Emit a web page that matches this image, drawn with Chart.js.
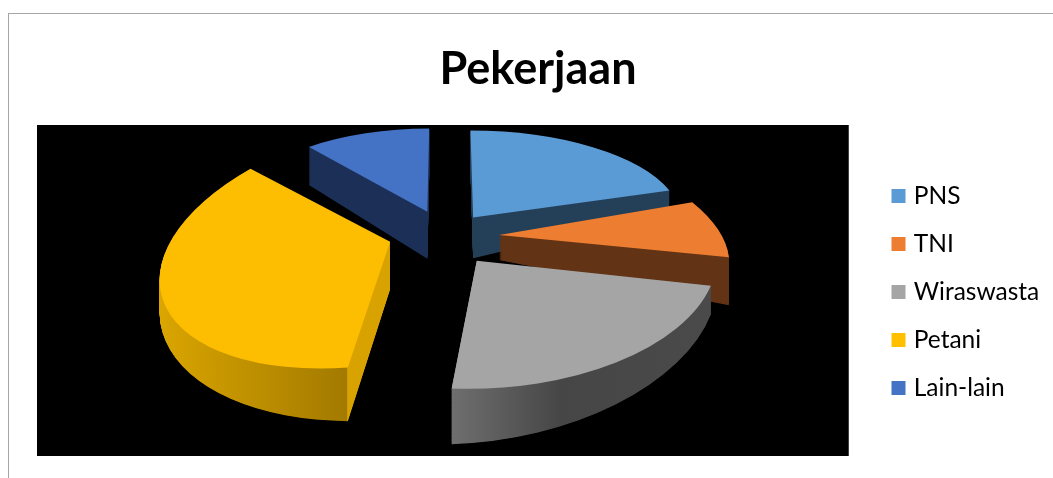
<!DOCTYPE html>
<html>
<head>
<meta charset="utf-8">
<title>Pekerjaan</title>
<script src="https://cdn.jsdelivr.net/npm/chart.js@4"></script>
<style>
  html, body { margin: 0; padding: 0; background: #fff; overflow: hidden; }
  #frame { position: absolute; left: 8px; top: 13px; width: 1100px; height: 520px; border: 1px solid #a6a6a6; }
  #myChart { position: absolute; left: 0; top: 0; }
</style>
</head>
<body>
<div id="frame"></div>
<canvas id="myChart" width="1053" height="478"></canvas>
<script>
"use strict";

// Chart data
const chartTitle = "Pekerjaan";
const categories = ["PNS", "TNI", "Wiraswasta", "Petani", "Lain-lain"];
const shares = [20, 9, 23, 37, 11];

// Colours
const topColors = ["#5b9bd5", "#ed7d31", "#a5a5a5", "#fdbd00", "#4472c4"];
const legendColors = ["#5b9bd5", "#ed7d31", "#a5a5a5", "#ffc000", "#4472c4"];
// [screen x, colour] stops for the wall under each slice
const sideStops = [
    [[0, "#234058"], [1053, "#234058"]],
    [[0, "#623314"], [1053, "#623314"]],
    [[445, "#6e6e6e"], [553, "#464646"], [701, "#4a4a4a"]],
    [[163, "#dba600"], [361, "#a37a00"], [362, "#d8a200"], [400, "#d8a200"]],
    [[0, "#1b2f57"], [1053, "#1b2f57"]]
];

// Fake 3D settings. The pie is drawn with radius 100 and squashed per slice
const pieCentre = { x: 440, y: 235 };
const baseRadius = 100;
const explode = [100, 120, 100, 90, 90];
const scaleX = [2.05, 1.94, 2.40, 2.17, 1.79];
const scaleY = [0.86, 0.93, 1.25, 1.08, 0.77];
const nudgeX = [3, 1, 3, -3, 1];
const nudgeY = [0, 1, 0, 0, -7];
// small linear tweak of each slice around its tip, stands in for perspective
const sliceTweak = [
    [1, 0.035, 0, 1],
    [1, 0.6, -0.01, 1],
    [1, 0.04, -0.03, 1.02],
    [1, -0.1, -0.14, 1.07],
    [1, -0.05, 0, 1]
];
// wall height at the pie centre and how it changes across the screen
const depthAtCentre = [44, 19, 43, 51, 48];
const depthSlopeX = [-0.1, 0.1, -0.07, 0.079, 0.075];
const depthSlopeY = [0, 0, 0.088, 0.074, 0];
const drawOrder = [4, 0, 1, 3, 2];

// Where the legend and the title sit, past what Chart.js would lay out
const legendLeft = 872;
const legendDrop = 64;
const titleCentre = 538;

function sliceTip(arc, i) {
    let half = (arc.startAngle + arc.endAngle) / 2;
    return {
        x: pieCentre.x + scaleX[i] * Math.cos(half) * explode[i] / 4 + nudgeX[i],
        y: pieCentre.y + scaleY[i] * Math.sin(half) * explode[i] / 4 + nudgeY[i]
    };
}

function sliceMatrix(ctx, arc, i) {
    let tip = sliceTip(arc, i);
    let m = sliceTweak[i];
    ctx.translate(tip.x, tip.y);
    ctx.transform(m[0], m[2], m[1], m[3], 0, 0);
    ctx.translate(-tip.x, -tip.y);
    ctx.translate(pieCentre.x + nudgeX[i], pieCentre.y + nudgeY[i]);
    ctx.scale(scaleX[i], scaleY[i]);
    ctx.translate(-arc.x, -arc.y);
}

function sideGradient(ctx, arc, i) {
    let half = (arc.startAngle + arc.endAngle) / 2;
    let shiftX = Math.cos(half) * explode[i] / 4;
    let toLocal = (sx) => arc.x - shiftX + (sx - pieCentre.x) / scaleX[i];
    let stops = sideStops[i];
    let x0 = toLocal(stops[0][0]);
    let x1 = toLocal(stops[stops.length - 1][0]);
    let grad = ctx.createLinearGradient(x0, 0, x1, 0);
    stops.forEach((s) => {
        grad.addColorStop((toLocal(s[0]) - x0) / (x1 - x0), s[1]);
    });
    return grad;
}

const pie3d = {
    id: "pie3d",
    afterLayout(chart) {
        let lg = chart.legend;
        let w = lg.right - lg.left;
        lg.left = legendLeft;
        lg.right = legendLeft + w;
        lg.top += legendDrop;
        lg.bottom += legendDrop;
        let tb = chart.titleBlock;
        let tw = tb.right - tb.left;
        tb.left = titleCentre - tw / 2;
        tb.right = titleCentre + tw / 2;
    },
    beforeDatasetsDraw(chart) {
        let a = chart.chartArea;
        chart.ctx.fillStyle = "#000";
        chart.ctx.fillRect(a.left, a.top, a.right - a.left, a.bottom - a.top);
    },
    beforeDatasetDraw(chart) {
        let ctx = chart.ctx;
        let arcs = chart.getDatasetMeta(0).data;
        drawOrder.forEach((i) => {
            let arc = arcs[i];
            let topOptions = arc.options;
            let bx = depthSlopeX[i];
            let by = depthSlopeY[i];
            let d = depthAtCentre[i];
            let layers = 70;

            // wall: stack of copies from the bottom up
            for (let n = layers; n >= 1; n--) {
                let t = n / layers;
                ctx.save();
                ctx.transform(1, t * bx, 0, 1 + t * by, 0,
                    t * (d - bx * pieCentre.x - by * pieCentre.y));
                sliceMatrix(ctx, arc, i);
                arc.options = Object.assign({}, topOptions, { backgroundColor: sideGradient(ctx, arc, i) });
                arc.draw(ctx);
                ctx.restore();
            }

            // top face
            arc.options = topOptions;
            ctx.save();
            sliceMatrix(ctx, arc, i);
            arc.draw(ctx);
            ctx.restore();
        });
        return false;
    }
};

new Chart(document.getElementById("myChart"), {
    type: "pie",
    data: {
        labels: categories,
        datasets: [{
            data: shares,
            backgroundColor: topColors,
            borderWidth: 0,
            offset: explode
        }]
    },
    options: {
        responsive: false,
        animation: false,
        events: [],
        radius: baseRadius,
        layout: { padding: { left: 37, right: 27, bottom: 22 } },
        plugins: {
            tooltip: { enabled: false },
            title: {
                display: true,
                text: chartTitle,
                color: "#000",
                font: { family: "Lato", size: 45, weight: "bold" },
                padding: { top: 42, bottom: 29 }
            },
            legend: {
                position: "right",
                labels: {
                    color: "#111",
                    font: { family: "Lato", size: 24.5 },
                    padding: 23.5,
                    boxWidth: 6,
                    boxHeight: 6,
                    // box is 6px plus an 8px stroke, so it reads as 14px with a tight gap to the text
                    generateLabels: () => categories.map((name, i) => ({
                        text: name,
                        fillStyle: legendColors[i],
                        strokeStyle: legendColors[i],
                        lineWidth: 8,
                        index: i
                    }))
                }
            }
        }
    },
    plugins: [pie3d]
});
</script>
</body>
</html>
